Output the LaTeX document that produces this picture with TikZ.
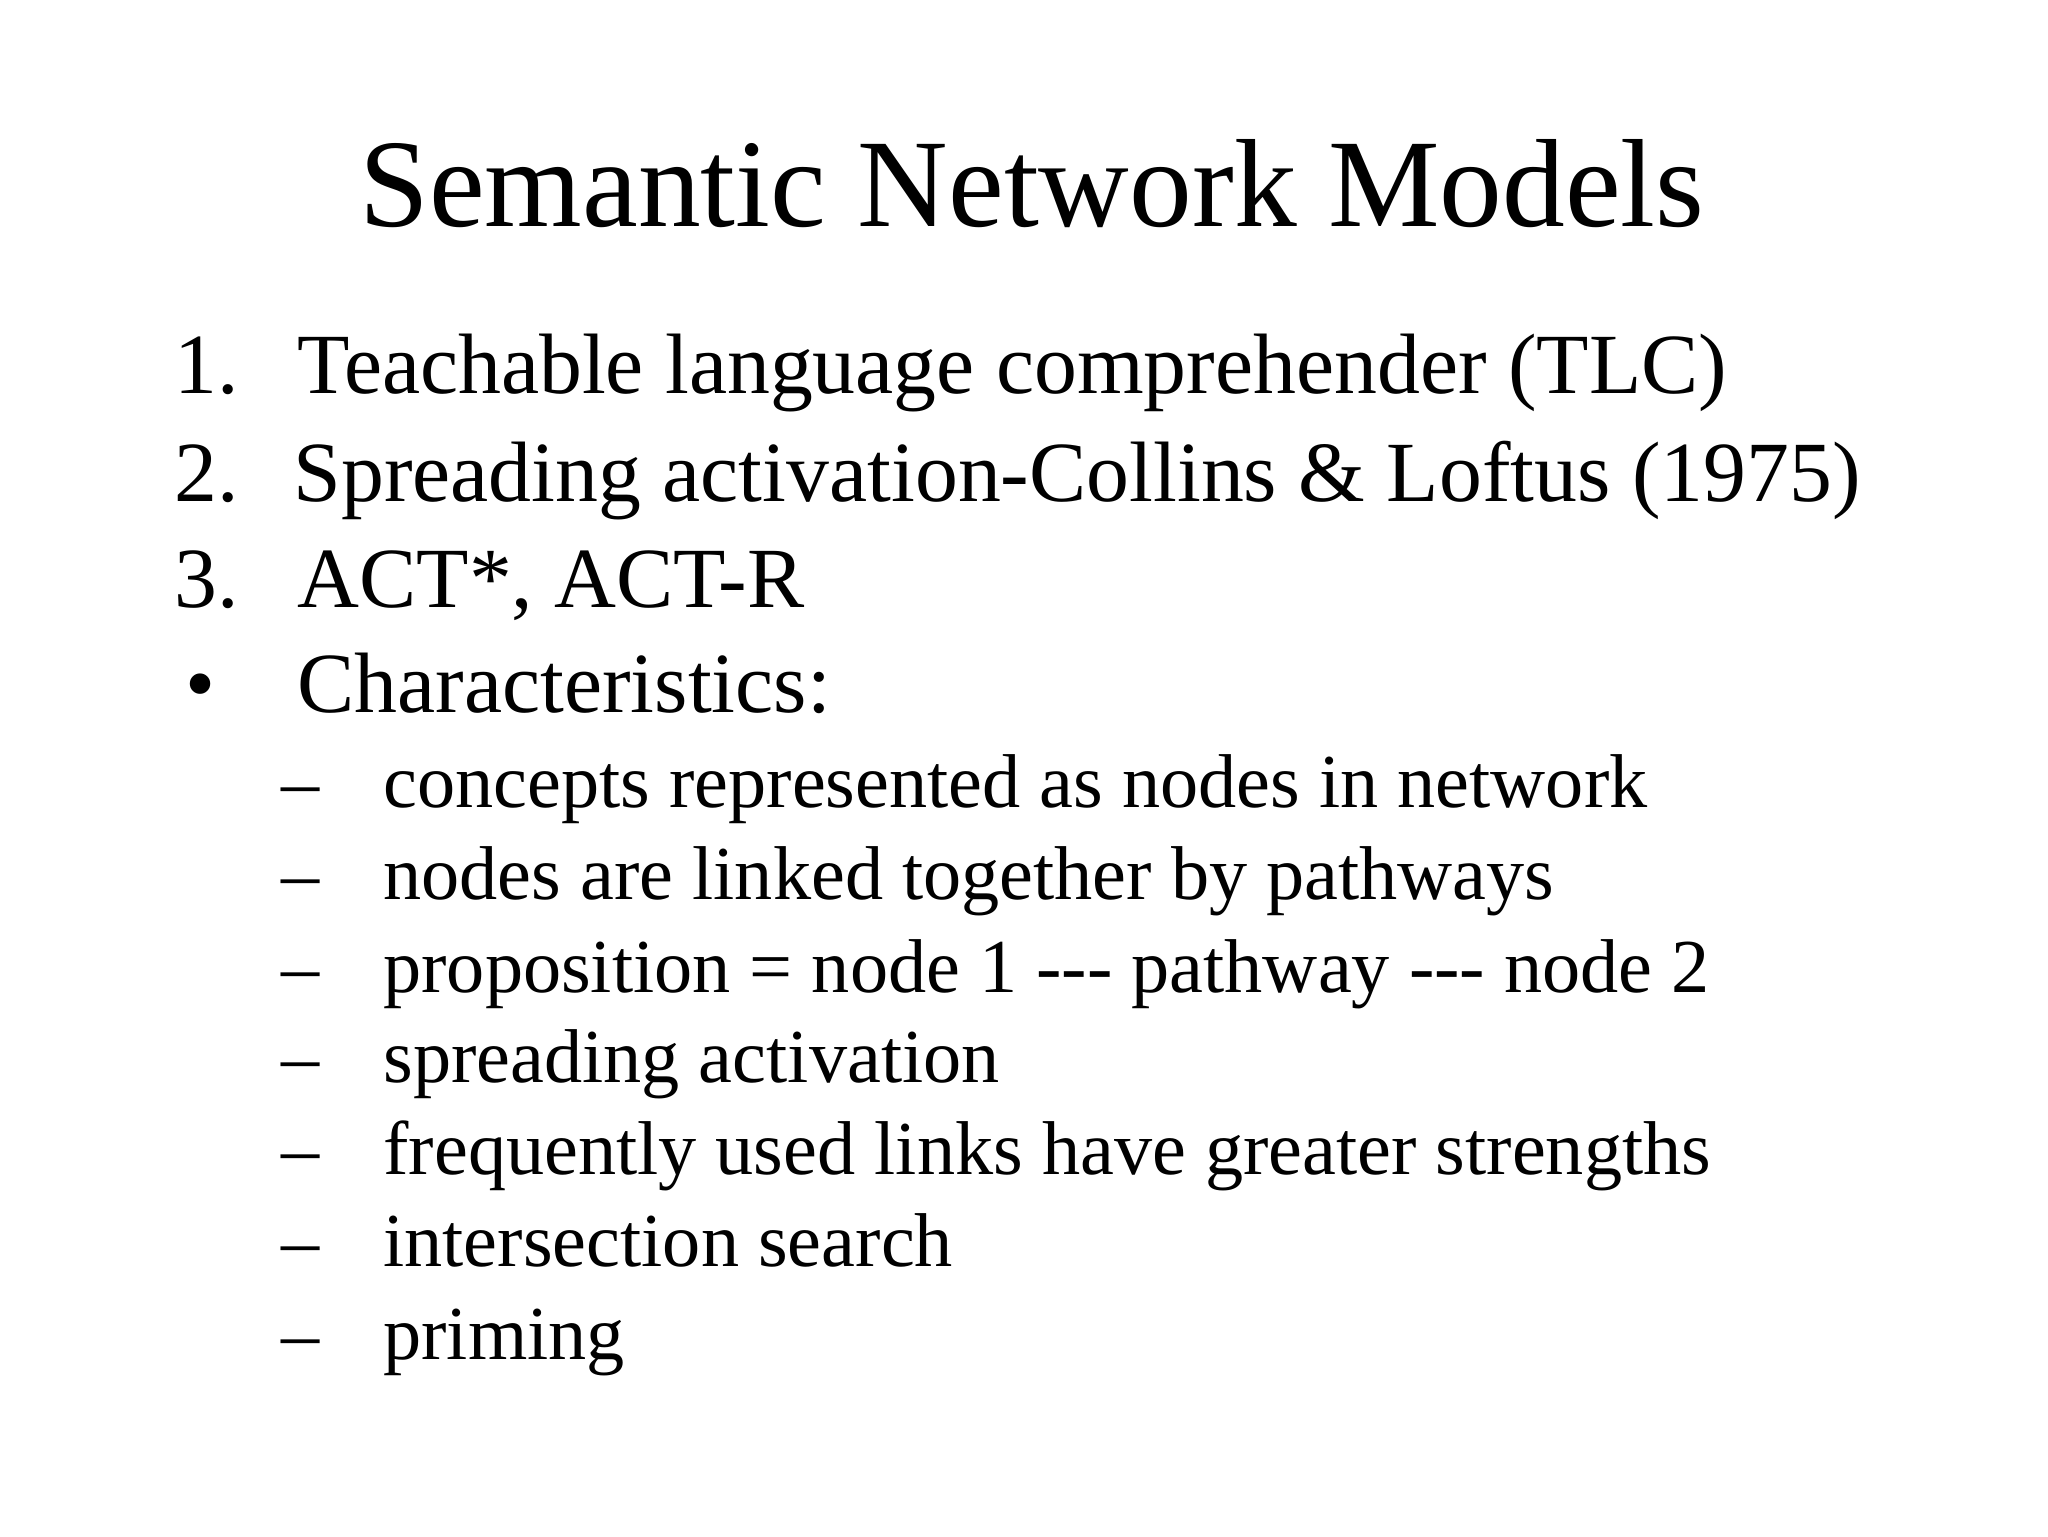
\documentclass[tikz,border=0pt]{standalone}
\usepackage{fontspec}
\setmainfont{Liberation Serif}
\begin{document}
\begin{tikzpicture}[x=0.013196cm,y=-0.013196cm,
  ttl/.style={anchor=base,inner sep=0,font=\fontsize{35.7}{40}\selectfont},
  itm/.style={anchor=base west,inner sep=0,font=\fontsize{24.4}{28}\selectfont},
  sub/.style={anchor=base west,inner sep=0,font=\fontsize{21.7}{25}\selectfont}]
\useasboundingbox (0,0) rectangle (1552,1164);
\node[ttl] (t) at (782,172) {Semantic Network Models};
\node[itm] (n1) at (132,298) {1.};
\node[itm] (i1) at (225,298) {Teachable language comprehender (TLC)};
\node[itm] (n2) at (132,380) {2.};
\node[itm] (i2) at (222,380) {Spreading activation-Collins \& Loftus (1975)};
\node[itm] (n3) at (132,460) {3.};
\node[itm] (i3) at (225,460) {ACT*, ACT-R};
\node[itm] (b) at (140,540) {•};
\node[itm] (i4) at (225,540) {Characteristics:};
\foreach \y/\t [count=\k] in {612/concepts represented as nodes in network,
  682/nodes are linked together by pathways,
  752/proposition = node 1 -{}-{}- pathway -{}-{}- node 2,
  820/spreading activation,
  890/frequently used links have greater strengths,
  960/intersection search,
  1030/priming}{
  \node[sub] (d\k) at (213,\y) {–};
  \node[sub] (s\k) at (290,\y) {\t};
}
\end{tikzpicture}
\end{document}
